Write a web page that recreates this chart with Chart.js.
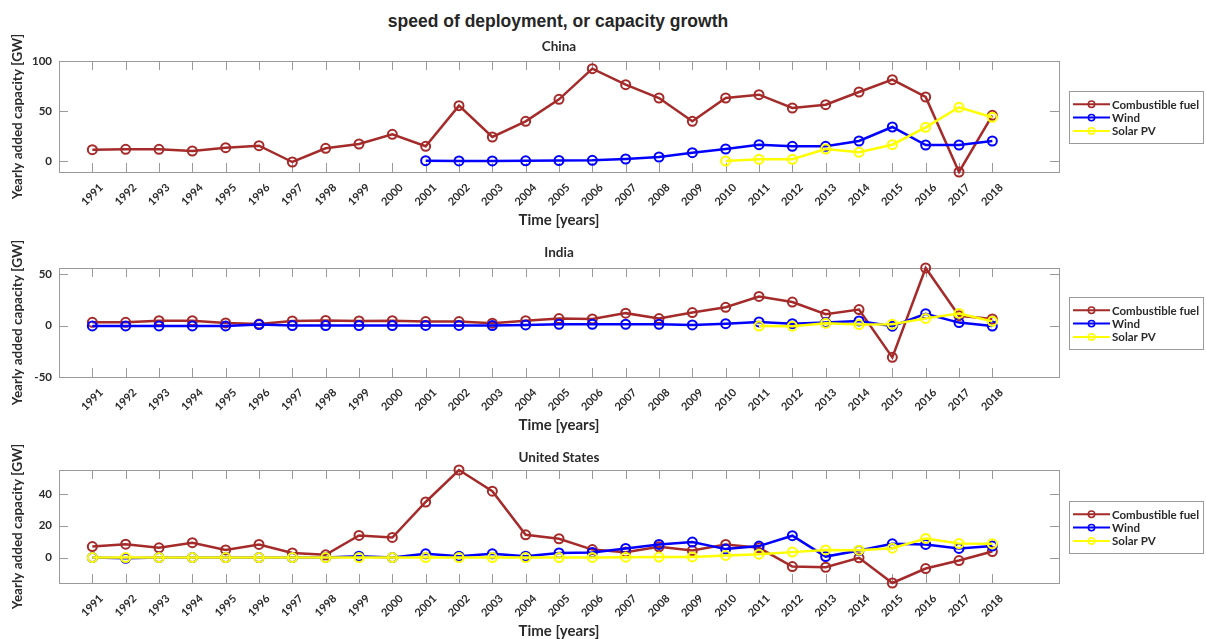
<!DOCTYPE html>
<html><head><meta charset="utf-8">
<script src="https://cdn.jsdelivr.net/npm/chart.js@4.4.1/dist/chart.umd.min.js"></script>
<style>
html,body{margin:0;padding:0;background:#fff;width:1206px;height:639px;overflow:hidden;}
#title{position:absolute;left:0;top:11px;width:1116px;text-align:center;font:bold 17.5px "Liberation Sans",Arial,sans-serif;color:#262626;line-height:20px;}
.c{position:absolute;left:0;}
</style></head><body>
<div id="title">speed of deployment, or capacity growth</div>
<canvas id="c1" class="c" style="top:0px" width="1206" height="230"></canvas>
<canvas id="c2" class="c" style="top:230px" width="1206" height="205"></canvas>
<canvas id="c3" class="c" style="top:435px" width="1206" height="206"></canvas>
<script>
const years = [1991,1992,1993,1994,1995,1996,1997,1998,1999,2000,2001,2002,2003,2004,2005,2006,2007,2008,2009,2010,2011,2012,2013,2014,2015,2016,2017,2018];
const xTicks = years;
const seriesNames = ['Combustible fuel','Wind','Solar PV'];

const chinaFuel  = [11.3,11.7,11.7,10,13.3,15.3,-1,12.7,17,26.7,14.7,55.3,24,39.7,61.7,92.3,76.3,63,39.7,63,66.3,53,56.3,69,81.3,64,-11,45.7];
const chinaWind  = [null,null,null,null,null,null,null,null,null,null,0.3,0.1,0.1,0.2,0.5,0.7,2,4,8.3,12,16.3,14.7,14.7,20,34,16,16,20];
const chinaSolar = [null,null,null,null,null,null,null,null,null,null,null,null,null,null,null,null,null,null,null,0,1.7,1.7,12,8.7,16.3,33.7,53.7,43.7];
const chinaYTicks = [0,50,100];

const indiaFuel  = [3.2,3.2,4.8,4.8,2.6,1.5,4.5,5,4.5,4.8,3.9,3.9,2.3,4.8,6.8,6.5,12.1,6.8,12.7,17.8,28.3,22.9,11.1,15.6,-30.9,56,9.6,6.5];
const indiaWind  = [-0.3,-0.3,-0.3,-0.3,-0.3,1,0,0,0,0,0.2,0.2,0,0.6,1.3,1.3,1.3,1.3,0.6,1.9,3.5,1.9,2.9,4.5,-0.6,11.5,2.9,-0.5];
const indiaSolar = [null,null,null,null,null,null,null,null,null,null,null,null,null,null,null,null,null,null,null,null,-0.5,-0.6,2.2,1,1.3,7,11.8,4.1];
const indiaYTicks = [-50,0,50];

const usFuel  = [6.9,8.4,6.1,9.3,4.8,8.2,2.9,1.7,13.9,12.6,34.9,55,41.7,14.3,11.8,5,3.4,6.7,4.4,8.2,6.1,-5.7,-6.1,-0.2,-16,-6.9,-1.9,3.8];
const usWind  = [0,-0.5,0,0,0,0,0,0.1,0.8,0,2.3,0.8,2.3,0.8,2.9,3.2,5.7,8.2,9.7,5.3,7.2,13.7,0.6,4.4,8.6,8.2,5.7,7.2];
const usSolar = [0,0,0,0,0,0,0,0,0,0,0,0,0,0,0,0.1,0.2,0.3,0.4,1.3,2.1,3.4,4.8,4.6,5.9,12,8.8,8.6];
const usYTicks = [0,20,40];

const seriesColors = ['#A52A2A','#0000FF','#FFFF00'];
const FONT = 'Lato';
const TXT = '#2b2b2b';
const FRAME = '#9a9a9a';

const framePlugin = {
  id: 'frame',
  beforeDatasetsDraw(chart) {
    const {ctx, chartArea: a, scales: {x, y}} = chart;
    const tl = 9;
    ctx.save();
    ctx.strokeStyle = FRAME; ctx.lineWidth = 1;
    ctx.strokeRect(Math.round(a.left)+0.5, Math.round(a.top)+0.5, Math.round(a.right-a.left), Math.round(a.bottom-a.top));
    ctx.beginPath();
    x.ticks.forEach(t => {
      const px = Math.round(x.getPixelForValue(t.value))+0.5;
      ctx.moveTo(px, a.top); ctx.lineTo(px, a.top+tl);
      ctx.moveTo(px, a.bottom); ctx.lineTo(px, a.bottom-tl);
    });
    y.ticks.forEach(t => {
      const py = Math.round(y.getPixelForValue(t.value))+0.5;
      ctx.moveTo(a.left, py); ctx.lineTo(a.left+tl, py);
      ctx.moveTo(a.right, py); ctx.lineTo(a.right-tl, py);
    });
    ctx.stroke();
    ctx.restore();
  }
};

const legendPlugin = {
  id: 'boxLegend',
  afterDraw(chart) {
    const {ctx, chartArea: a} = chart;
    const w = 134, h = 52;
    const lx = 1069, ly = Math.round((a.top + a.bottom)/2 - h/2);
    ctx.save();
    ctx.fillStyle = '#fff'; ctx.fillRect(lx, ly, w, h);
    ctx.strokeStyle = FRAME; ctx.lineWidth = 1;
    ctx.strokeRect(lx+0.5, ly+0.5, w, h);
    chart.data.datasets.forEach((ds, i) => {
      const cy = ly + 13.3 + i*13.3;
      ctx.strokeStyle = ds.borderColor; ctx.lineWidth = 2;
      ctx.beginPath(); ctx.moveTo(lx+4, cy); ctx.lineTo(lx+41, cy); ctx.stroke();
      ctx.beginPath(); ctx.arc(lx+22.5, cy, 3.2, 0, Math.PI*2); ctx.lineWidth = 1.5; ctx.stroke();
      ctx.fillStyle = TXT; ctx.font = 'bold 11.5px ' + FONT; ctx.textBaseline = 'middle'; ctx.textAlign = 'left';
      ctx.fillText(ds.label, lx+43, cy+0.5);
    });
    ctx.restore();
  }
};

function subtitlePlugin(text, off) {
  return {
    id: 'sub',
    afterDraw(chart) {
      const {ctx, chartArea: a} = chart;
      ctx.save();
      ctx.fillStyle = TXT; ctx.font = 'bold 13.5px ' + FONT;
      ctx.textAlign = 'center'; ctx.textBaseline = 'middle';
      ctx.fillText(text, (a.left + a.right)/2, a.top - off);
      ctx.restore();
    }
  };
}

function makeChart(id, name, fuel, wind, solar, yMin, yMax, yTicks, padTop, subOff) {
  const toPts = arr => years.map((yr, i) => ({x: yr, y: arr[i]})).filter(p => p.y !== null);
  const sets = [fuel, wind, solar].map((arr, i) => ({
    label: seriesNames[i],
    data: toPts(arr),
    borderColor: seriesColors[i],
    backgroundColor: seriesColors[i],
    borderWidth: 2.5,
    pointRadius: 4.5,
    pointBorderWidth: 2,
    pointBackgroundColor: 'rgba(0,0,0,0)',
    pointBorderColor: seriesColors[i],
    tension: 0,
    clip: false,
    order: 2 - i
  }));
  return new Chart(document.getElementById(id), {
    type: 'line',
    data: {datasets: sets},
    options: {
      responsive: false, animation: false, devicePixelRatio: 1,
      layout: {autoPadding: false, padding: {left: 0, right: 147, top: padTop, bottom: 0}},
      plugins: {legend: {display: false}, tooltip: {enabled: false}, title: {display: false}},
      scales: {
        x: {
          type: 'linear', min: 1990, max: 2020,
          afterBuildTicks: s => { s.ticks = xTicks.map(v => ({value: v})); },
          afterFit: s => { s.height = 58; s.paddingLeft = 0; s.paddingRight = 0; },
          grid: {display: false, drawTicks: false}, border: {display: false},
          ticks: {autoSkip: false, minRotation: 45, maxRotation: 45, padding: 9, labelOffset: 9,
                  color: TXT, font: {family: FONT, weight: 'bold', size: 11}, callback: v => String(v)},
          title: {display: true, text: 'Time [years]', color: TXT,
                  font: {family: FONT, weight: 'bold', size: 15}, padding: {top: 0, bottom: 1}}
        },
        y: {
          type: 'linear', min: yMin, max: yMax,
          afterBuildTicks: s => { s.ticks = yTicks.map(v => ({value: v})); },
          afterFit: s => { s.width = 59; s.paddingTop = 0; s.paddingBottom = 0; },
          grid: {display: false, drawTicks: false}, border: {display: false},
          ticks: {padding: 7, color: TXT, font: {family: FONT, weight: 'bold', size: 11.5}},
          title: {display: true, text: 'Yearly added capacity [GW]', color: TXT,
                  font: {family: FONT, weight: 'bold', size: 13.5}, padding: {top: 10, bottom: 0}}
        }
      }
    },
    plugins: [framePlugin, legendPlugin, subtitlePlugin(name, subOff)]
  });
}

makeChart('c1', 'China', chinaFuel, chinaWind, chinaSolar, -11, 100, chinaYTicks, 61, 14);
makeChart('c2', 'India', indiaFuel, indiaWind, indiaSolar, -50, 56, indiaYTicks, 38, 15);
makeChart('c3', 'United States', usFuel, usWind, usSolar, -16, 55, usYTicks, 35, 12);
</script>
</body></html>
